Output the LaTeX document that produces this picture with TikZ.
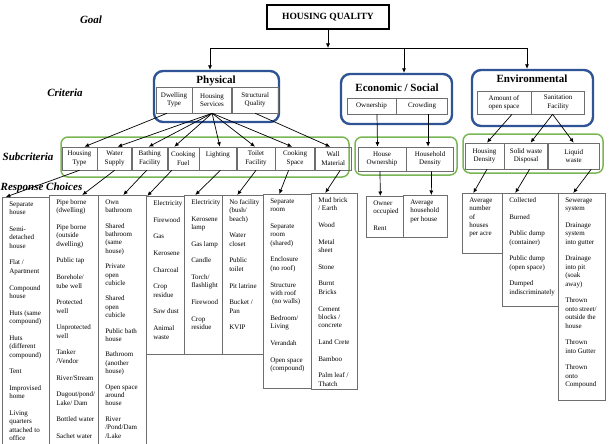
\documentclass[tikz,border=0pt]{standalone}
\usepackage{fontspec}
\setmainfont{Liberation Serif}
\usepackage{tikz}
\usetikzlibrary{arrows.meta, positioning}

\definecolor{critblue}{RGB}{47,84,150}
\definecolor{subgreen}{RGB}{122,182,84}
\definecolor{cellgray}{RGB}{110,110,110}

% column of response choices: width, height, items
\newcommand{\choicelist}[3]{%
  \parbox[t][#2][t]{#1}{\raggedright\leftskip=7pt\rule{0pt}{9pt}#3}}
\newcommand{\chgap}{\\[8.3pt]}

\begin{document}
\begin{tikzpicture}[
  x=1pt, y=-1pt,
  goalbox/.style={draw, line width=1.3pt, minimum width=122pt, minimum height=24pt,
                  font=\fontsize{9.5}{11}\selectfont\bfseries},
  lvl/.style={font=\fontsize{11}{13}\selectfont\bfseries\itshape},
  crit/.style={draw=critblue, line width=2.4pt, rounded corners=9pt},
  crittitle/.style={font=\fontsize{11}{13}\selectfont\bfseries},
  sub/.style={draw=subgreen, line width=1.5pt, rounded corners=7pt},
  cell/.style={draw=cellgray, line width=0.6pt, align=center, inner sep=1pt,
               font=\fontsize{7}{8.4}\selectfont},
  choice/.style={draw=cellgray, line width=0.6pt, anchor=north west, inner sep=0pt,
                 font=\fontsize{7}{8.4}\selectfont},
  arr/.style={-{Latex[length=4.5pt, width=4pt]}, line width=0.7pt}]
  \useasboundingbox (0,0) rectangle (610,444);

  % levels
  \node[lvl] (lgoal) at (91,20) {Goal};
  \node[lvl] (lcrit) at (65,93) {Criteria};
  \node[lvl] (lsub) at (28,157) {Subcriteria};
  \node[lvl] (lresp) at (41.5,188) {Response Choices};

  % goal
  \node[goalbox] (hq) at (328,17) {HOUSING QUALITY};

  % criteria
  \node[crit, minimum width=125pt, minimum height=51pt] (phys) at (216.5,96.5) {};
  \node[crittitle] (physT) at (216,81) {Physical};
  \node[cell, minimum width=36pt, minimum height=26pt] (dwell) at (174,100) {Dwelling\\Type};
  \node[cell, minimum width=39pt, minimum height=26pt, right=0pt of dwell] (hserv) {Housing\\Services};
  \node[cell, minimum width=46pt, minimum height=26pt, right=0pt of hserv] (struct) {Structural\\Quality};

  \node[crit, minimum width=111pt, minimum height=50pt] (econ) at (396.5,99) {};
  \node[crittitle] (econT) at (397,88) {Economic / Social};
  \node[cell, minimum width=49pt, minimum height=16pt] (own) at (371.5,106) {Ownership};
  \node[cell, minimum width=51pt, minimum height=16pt, right=0pt of own] (crowd) {Crowding};

  \node[crit, minimum width=121pt, minimum height=56pt] (env) at (532.5,98) {};
  \node[crittitle] (envT) at (532,79) {Environmental};
  \node[cell, minimum width=54pt, minimum height=23pt] (amount) at (504,102.5) {Amount of\\open space};
  \node[cell, minimum width=53pt, minimum height=23pt, right=0pt of amount] (sanit) {Sanitation\\Facility};

  % subcriteria
  \node[sub, minimum width=288pt, minimum height=40pt] (physS) at (205,157) {};
  \node[cell, minimum width=35pt, minimum height=23pt] (htype) at (79.5,158.5) {Housing\\Type};
  \node[cell, minimum width=34pt, minimum height=23pt, right=0pt of htype] (water) {Water\\Supply};
  \node[cell, minimum width=35pt, minimum height=23pt, right=0pt of water] (bath) {Bathing\\Facility};
  \node[cell, minimum width=31pt, minimum height=23pt, right=0pt of bath] (cfuel) {Cooking\\Fuel};
  \node[cell, minimum width=37pt, minimum height=23pt, right=0pt of cfuel] (light) {Lighting\\\phantom{L}};
  \node[cell, minimum width=38pt, minimum height=23pt, right=0pt of light] (toilet) {Toilet\\Facility};
  \node[cell, minimum width=39pt, minimum height=23pt, right=0pt of toilet] (cspace) {Cooking\\Space};
  \node[cell, minimum width=36pt, minimum height=23pt, right=0pt of cspace] (wall) {Wall\\Material};

  \node[sub, minimum width=102pt, minimum height=38pt] (econS) at (406,156) {};
  \node[cell, minimum width=48pt, minimum height=24pt] (hown) at (382,159) {House\\Ownership};
  \node[cell, minimum width=47pt, minimum height=24pt, right=0pt of hown] (hdens) {Household\\Density};

  \node[sub, minimum width=140pt, minimum height=39pt] (envS) at (533,153.5) {};
  \node[cell, minimum width=39pt, minimum height=26pt] (hdensity) at (484.5,156) {Housing\\Density};
  \node[cell, minimum width=43pt, minimum height=26pt, right=0pt of hdensity] (solid) {Solid waste\\Disposal};
  \node[cell, minimum width=51pt, minimum height=26pt, right=0pt of solid] (liquid) {Liquid\\waste};

  % response choices
  \node[choice] (rhtype) at (2,197) {\choicelist{47pt}{260pt}{Separate\\house\chgap
    Semi-\\detached\\house\chgap Flat /\\Apartment\chgap Compound\\house\chgap
    Huts (same\\compound)\chgap Huts\\(different\\compound)\chgap Tent\chgap
    Improvised\\home\chgap Living\\quarters\\attached to\\office}};
  \node[choice] (rwater) at (49,195) {\choicelist{49pt}{260pt}{Pipe borne\\(dwelling)\chgap
    Pipe borne\\(outside\\dwelling)\chgap Public tap\chgap Borehole/\\tube well\chgap
    Protected\\well\chgap Unprotected\\well\chgap Tanker\\/Vendor\chgap River/Stream\chgap
    Dugout/pond/\\Lake/ Dam\chgap Bottled water\chgap Sachet water}};
  \node[choice] (rbath) at (98,195) {\choicelist{48pt}{260pt}{Own\\bathroom\\[7pt]
    Shared\\bathroom\\(same\\house)\\[7pt] Private\\open\\cubicle\\[7pt] Shared\\open\\cubicle\\[7pt]
    Public bath\\house\\[7pt] Bathroom\\(another\\house)\\[7pt] Open space\\around\\house\\[7pt]
    River\\/Pond/Dam\\/Lake}};
  \node[choice] (rcfuel) at (146,196) {\choicelist{38pt}{158pt}{Electricity\chgap Firewood\chgap
    Gas\chgap Kerosene\chgap Charcoal\chgap Crop\\residue\chgap Saw dust\chgap Animal\\waste}};
  \node[choice] (rlight) at (184,195) {\choicelist{38pt}{159pt}{Electricity\chgap Kerosene\\lamp\chgap
    Gas lamp\chgap Candle\chgap Torch/\\flashlight\chgap Firewood\chgap Crop\\residue}};
  \node[choice] (rtoilet) at (222,195) {\choicelist{41pt}{159pt}{No facility\\(bush/\\beach)\chgap
    Water\\closet\chgap Public\\toilet\chgap Pit latrine\chgap Bucket /\\Pan\chgap KVIP}};
  \node[choice] (rcspace) at (263,194) {\choicelist{48pt}{194pt}{Separate\\room\chgap
    Separate\\room\\(shared)\chgap Enclosure\\(no roof)\chgap Structure\\with roof\\\ (no walls)\chgap
    Bedroom/\\Living\chgap Verandah\chgap Open space\\(compound)}};
  \node[choice] (rwall) at (311,193) {\choicelist{46pt}{196pt}{Mud brick\\/ Earth\chgap Wood\chgap
    Metal\\sheet\chgap Stone\chgap Burnt\\Bricks\chgap Cement\\blocks /\\concrete\chgap
    Land Crete\chgap Bamboo\chgap Palm leaf /\\Thatch}};
  \node[choice] (rhown) at (366,196) {\choicelist{37pt}{41pt}{Owner\\occupied\chgap Rent}};
  \node[choice] (rhdens) at (403,195) {\choicelist{44pt}{42pt}{Average\\household\\per house}};
  \node[choice] (rhdensity) at (462,193) {\choicelist{40pt}{60pt}{Average\\number\\of\\houses\\per acre}};
  \node[choice] (rsolid) at (502,193) {\choicelist{56pt}{113pt}{Collected\chgap Burned\chgap
    Public dump\\(container)\chgap Public dump\\(open space)\chgap Dumped\\indiscriminately}};
  \node[choice] (rliquid) at (558,193) {\choicelist{47pt}{207pt}{Sewerage\\system\chgap
    Drainage\\system\\into gutter\chgap Drainage\\into pit\\(soak\\away)\chgap
    Thrown\\onto street/\\outside the\\house\chgap Thrown\\into Gutter\chgap Thrown\\onto\\Compound}};

  % goal -> criteria
  \coordinate (bus) at (328,48);
  \coordinate (busP) at (210,48);
  \coordinate (busE) at (404,48);
  \coordinate (busV) at (527,48);
  \draw[arr] (hq) -- (bus);
  \draw[line width=0.7pt] (busP) -- (busV);
  \draw[arr] (busP) -- (busP |- phys.north);
  \draw[arr] (busE) -- (busE |- econ.north);
  \draw[arr] (busV) -- (busV |- env.north);

  % criteria -> subcriteria
  \draw[arr] ([xshift=-7pt]dwell.south) -- ([xshift=5pt]htype.north);
  \draw[arr] (hserv.south) -- ([xshift=3pt]water.north);
  \draw[arr] (hserv.south) -- ([xshift=-1pt]bath.north);
  \draw[arr] (hserv.south) -- ([xshift=-9pt]cfuel.north);
  \draw[arr] (hserv.south) -- ([xshift=2pt]light.north);
  \draw[arr] (hserv.south) -- ([xshift=-1pt]toilet.north);
  \draw[arr] (hserv.south) -- ([xshift=-3pt]cspace.north);
  \draw[arr] (struct.south) -- ([xshift=-3pt]wall.north);
  \draw[arr] ([xshift=5.5pt]own.south) -- ([xshift=-4.5pt]hown.north);
  \draw[arr] ([xshift=6pt]crowd.south) -- ([xshift=-2pt]hdens.north);
  \draw[arr] ([xshift=8pt]amount.south) -- ([xshift=2.5pt]hdensity.north);
  \draw[arr] ([xshift=-5.5pt]sanit.south) -- ([xshift=4.5pt]solid.north);
  \draw[arr] ([xshift=-5.5pt]sanit.south) -- (liquid.north);

  % subcriteria -> response choices
  \draw[arr] (htype.south) -- ([xshift=-20pt]rhtype.north);
  \draw[arr] (water.south) -- ([xshift=8.5pt]rwater.north);
  \draw[arr] ([xshift=-3pt]bath.south) -- ([xshift=1pt]rbath.north);
  \draw[arr] ([xshift=-11.5pt]cfuel.south) -- ([xshift=-18pt]rcfuel.north);
  \draw[arr] ([xshift=2.5pt]light.south) -- ([xshift=-8pt]rlight.north);
  \draw[arr] (toilet.south) -- ([xshift=-5.5pt]rtoilet.north);
  \draw[arr] ([xshift=-6.5pt]cspace.south) -- ([xshift=-8pt]rcspace.north);
  \draw[arr] ([xshift=7pt]wall.south) -- ([xshift=-9pt]rwall.north);
  \draw[arr] ([xshift=-2pt]hown.south) -- ([xshift=-4.5pt]rhown.north);
  \draw[arr] ([xshift=1.5pt]hdens.south) -- ([xshift=6pt]rhdens.north);
  \draw[arr] ([xshift=2.5pt]hdensity.south) -- ([xshift=-9pt]rhdensity.north);
  \draw[arr] ([xshift=3.5pt]solid.south) -- ([xshift=-15pt]rsolid.north);
  \draw[arr] ([xshift=17.5pt]liquid.south) -- ([xshift=-8.5pt]rliquid.north);
\end{tikzpicture}
\end{document}
